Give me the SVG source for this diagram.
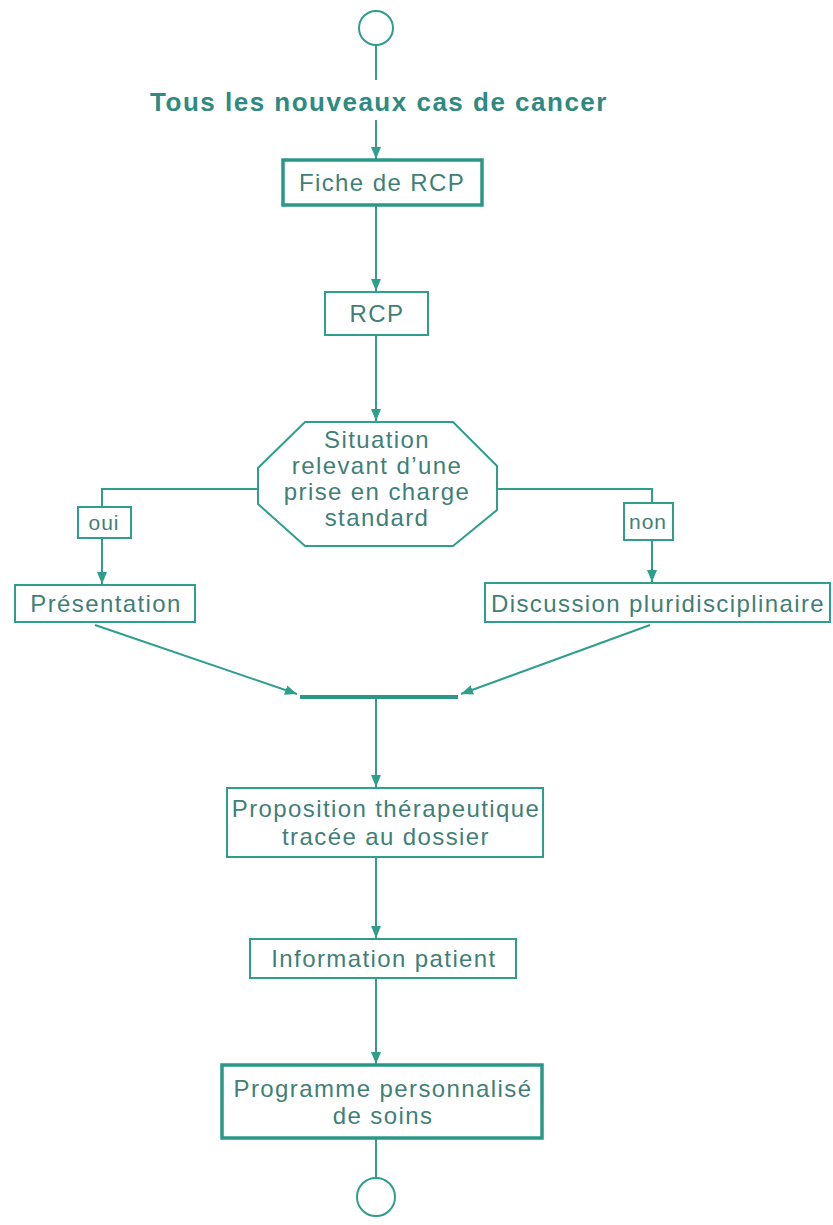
<svg xmlns="http://www.w3.org/2000/svg" width="833" height="1225" viewBox="0 0 833 1225">
<style>
.c{fill:none;stroke:#2f9e8c;stroke-width:2}
.b{fill:#fff;stroke:#2f9e8c;stroke-width:2}
.bt{fill:#fff;stroke:#2a9886;stroke-width:3.5}
.t{font-family:"Liberation Sans",Arial,sans-serif;font-size:24px;fill:#3f7f78;text-anchor:middle;letter-spacing:1.4px}
.s{font-size:21px;letter-spacing:1px}
.h{font-family:"Liberation Sans",Arial,sans-serif;font-size:26px;font-weight:bold;fill:#2e8a80;text-anchor:middle;letter-spacing:1.5px}
</style>
<defs>
<marker id="a" markerUnits="userSpaceOnUse" markerWidth="12" markerHeight="14" viewBox="0 0 12 14" refX="12" refY="7" orient="auto">
<path d="M0,2 L12,7 L0,12 Z" fill="#2f9e8c"/>
</marker>
</defs>
<rect width="833" height="1225" fill="#fff"/>
<g id="connectors">
<line class="c" x1="376" y1="45" x2="376" y2="80"/>
<line class="c" x1="376" y1="120" x2="376" y2="159" marker-end="url(#a)"/>
<line class="c" x1="376" y1="205" x2="376" y2="291" marker-end="url(#a)"/>
<line class="c" x1="376" y1="335" x2="376" y2="421" marker-end="url(#a)"/>
<polyline class="c" points="258,489 102,489 102,507"/>
<line class="c" x1="102" y1="538" x2="102" y2="584" marker-end="url(#a)"/>
<polyline class="c" points="497,489 652,489 652,503"/>
<line class="c" x1="652" y1="540" x2="652" y2="582" marker-end="url(#a)"/>
<line class="c" x1="95" y1="625" x2="297" y2="694" marker-end="url(#a)"/>
<line class="c" x1="650" y1="625" x2="461" y2="694" marker-end="url(#a)"/>
<line x1="300" y1="697" x2="458" y2="697" stroke="#2a9886" stroke-width="4"/>
<line class="c" x1="376" y1="699" x2="376" y2="787" marker-end="url(#a)"/>
<line class="c" x1="376" y1="857" x2="376" y2="938" marker-end="url(#a)"/>
<line class="c" x1="376" y1="978" x2="376" y2="1064" marker-end="url(#a)"/>
<line class="c" x1="376" y1="1138" x2="376" y2="1177"/>
</g>
<g id="start"><circle class="b" cx="376" cy="28" r="17" stroke="#5f8f88"/></g>
<g id="title"><text class="h" x="379" y="111">Tous les nouveaux cas de cancer</text></g>
<g id="fiche"><rect class="bt" x="283" y="160" width="199" height="45"/><text class="t" x="382" y="191">Fiche de RCP</text></g>
<g id="rcp"><rect class="b" x="325" y="292" width="103" height="43"/><text class="t" x="377" y="322">RCP</text></g>
<g id="situation"><polygon class="b" points="305,422 453,422 497,466 497,510 453,546 305,546 258,504 258,468"/>
<text class="t" x="377" y="448">Situation</text>
<text class="t" x="377" y="474">relevant d’une</text>
<text class="t" x="377" y="500">prise en charge</text>
<text class="t" x="377" y="526">standard</text></g>
<g id="oui"><rect class="b" x="78" y="507" width="53" height="31"/><text class="t s" x="104" y="530">oui</text></g>
<g id="non"><rect class="b" x="624" y="503" width="49" height="37"/><text class="t s" x="648" y="529">non</text></g>
<g id="presentation"><rect class="b" x="15" y="585" width="180" height="37"/><text class="t" x="106" y="612">Présentation</text></g>
<g id="discussion"><rect class="b" x="485" y="583" width="345" height="39"/><text class="t" x="658" y="612">Discussion pluridisciplinaire</text></g>
<g id="proposition"><rect class="b" x="227" y="788" width="316" height="69"/>
<text class="t" x="386" y="817">Proposition thérapeutique</text>
<text class="t" x="386" y="845">tracée au dossier</text></g>
<g id="information"><rect class="b" x="250" y="939" width="266" height="39"/><text class="t" x="384" y="967">Information patient</text></g>
<g id="programme"><rect class="bt" x="222" y="1065" width="320" height="73"/>
<text class="t" x="383" y="1097">Programme personnalisé</text>
<text class="t" x="383" y="1124">de soins</text></g>
<g id="end"><circle class="b" cx="376" cy="1197" r="19" stroke="#5f8f88"/></g>
</svg>
